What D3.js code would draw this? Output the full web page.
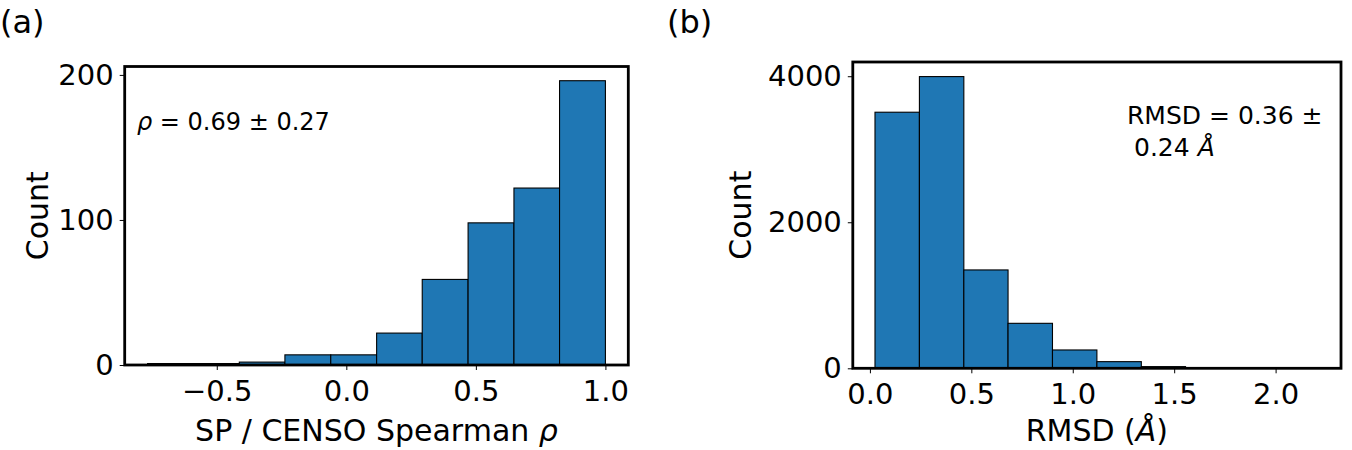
<!DOCTYPE html>
<html lang="en">
  <head>
    <meta charset="utf-8">
    <title>Histograms</title>
    <script src="https://d3js.org/d3.v7.min.js"></script>
    <style>
      body { margin: 0; background: #fff; }
      svg text { font-family: "DejaVu Sans", sans-serif; fill: #000; }
    </style>
  </head>
  <body>
    <svg id="chart" width="1352" height="450"></svg>
<script>

// ---- data ----
// panel (a): Spearman rho histogram, 10 bins
var rhoEdges = [-0.767, -0.590, -0.413, -0.237, -0.060, 0.117, 0.293, 0.470, 0.647, 0.823, 1.000];
var rhoCounts = [1, 1, 2, 7, 7, 22, 59, 98, 122, 196];
var rhoTicks = [-0.5, 0.0, 0.5, 1.0];
var rhoCountTicks = [0, 100, 200];

// panel (b): RMSD histogram, 10 bins
var rmsdEdges = [0.025, 0.244, 0.463, 0.681, 0.900, 1.119, 1.338, 1.556, 1.775, 1.994, 2.213];
var rmsdCounts = [3507, 3995, 1347, 616, 251, 91, 23, 3, 2, 1];
var rmsdTicks = [0.0, 0.5, 1.0, 1.5, 2.0];
var rmsdCountTicks = [0, 2000, 4000];

// ---- layout ----
var svg = d3.select("#chart");
var barColor = "#1f77b4";

function drawPanel(opt) {
  var edges = opt.edges, counts = opt.counts;
  var span = edges[edges.length - 1] - edges[0];
  var x = d3.scaleLinear()
    .domain([edges[0] - 0.05 * span, edges[edges.length - 1] + 0.05 * span])
    .range([opt.left, opt.right]);
  var y = d3.scaleLinear()
    .domain([0, d3.max(counts) * 1.05])
    .range([opt.bottom, opt.top]);

  var g = svg.append("g");

  // bars
  g.selectAll("rect.bar")
    .data(counts)
    .enter()
    .append("rect")
      .attr("class", "bar")
      .attr("x", function(d, i) { return x(edges[i]); })
      .attr("width", function(d, i) { return x(edges[i + 1]) - x(edges[i]); })
      .attr("y", function(d) { return y(d); })
      .attr("height", function(d) { return opt.bottom - y(d); })
      .style("fill", barColor)
      .style("stroke", "#000")
      .style("stroke-width", 1.1);

  // axes
  var xAxis = g.append("g")
    .attr("transform", "translate(0," + opt.bottom + ")")
    .call(d3.axisBottom(x).tickValues(opt.xTicks).tickSize(5).tickPadding(10)
      .tickFormat(d3.format(".1f")));
  var yAxis = g.append("g")
    .attr("transform", "translate(" + opt.left + ",0)")
    .call(d3.axisLeft(y).tickValues(opt.yTicks).tickSize(5).tickPadding(6)
      .tickFormat(d3.format("d")));
  [xAxis, yAxis].forEach(function(a) {
    a.select(".domain").remove();
    a.selectAll("line").style("stroke", "#000").style("stroke-width", 1);
    a.selectAll("text").style("font-size", "29px").style("fill", "#000");
  });

  // frame
  g.append("rect")
    .attr("x", opt.left).attr("y", opt.top)
    .attr("width", opt.right - opt.left).attr("height", opt.bottom - opt.top)
    .style("fill", "none").style("stroke", "#000").style("stroke-width", 2.8);

  // axis labels
  var xl = g.append("text")
    .attr("x", (opt.left + opt.right) / 2).attr("y", 441)
    .attr("text-anchor", "middle").style("font-size", "30px");
  xl.append("tspan").text(opt.xLabel[0]);
  xl.append("tspan").style("font-style", "italic").text(opt.xLabel[1]);
  xl.append("tspan").text(opt.xLabel[2]);

  g.append("text")
    .attr("transform", "translate(" + opt.yLabelX + "," + (opt.top + opt.bottom) / 2 + ") rotate(-90)")
    .attr("text-anchor", "middle").style("font-size", "30px")
    .text("Count");

  // panel letter
  g.append("text").attr("x", opt.letterX).attr("y", 33)
    .style("font-size", "32px").text(opt.letter);

  return g;
}

var gA = drawPanel({
  edges: rhoEdges, counts: rhoCounts, xTicks: rhoTicks, yTicks: rhoCountTicks,
  left: 124.7, right: 628.3, top: 66.5, bottom: 365,
  xLabel: ["SP / CENSO Spearman ", "\u03c1", ""], yLabelX: 48,
  letter: "(a)", letterX: 0
});
var gB = drawPanel({
  edges: rmsdEdges, counts: rmsdCounts, xTicks: rmsdTicks, yTicks: rmsdCountTicks,
  left: 852.8, right: 1341, top: 62, bottom: 368.3,
  xLabel: ["RMSD (", "\u00c5", ")"], yLabelX: 751,
  letter: "(b)", letterX: 667
});

// annotations
var ta = gA.append("text").attr("x", 137).attr("y", 130).style("font-size", "24px");
ta.append("tspan").style("font-style", "italic").text("\u03c1");
ta.append("tspan").text(" = 0.69 \u00b1 0.27");

var tb = gB.append("text").attr("x", 1127).attr("y", 124).style("font-size", "25px")
  .text("RMSD = 0.36 \u00b1");
var tb2 = gB.append("text").attr("x", 1134).attr("y", 156).style("font-size", "25px");
tb2.append("tspan").text("0.24 ");
tb2.append("tspan").style("font-style", "italic").text("\u00c5");

</script>
  </body>
</html>
